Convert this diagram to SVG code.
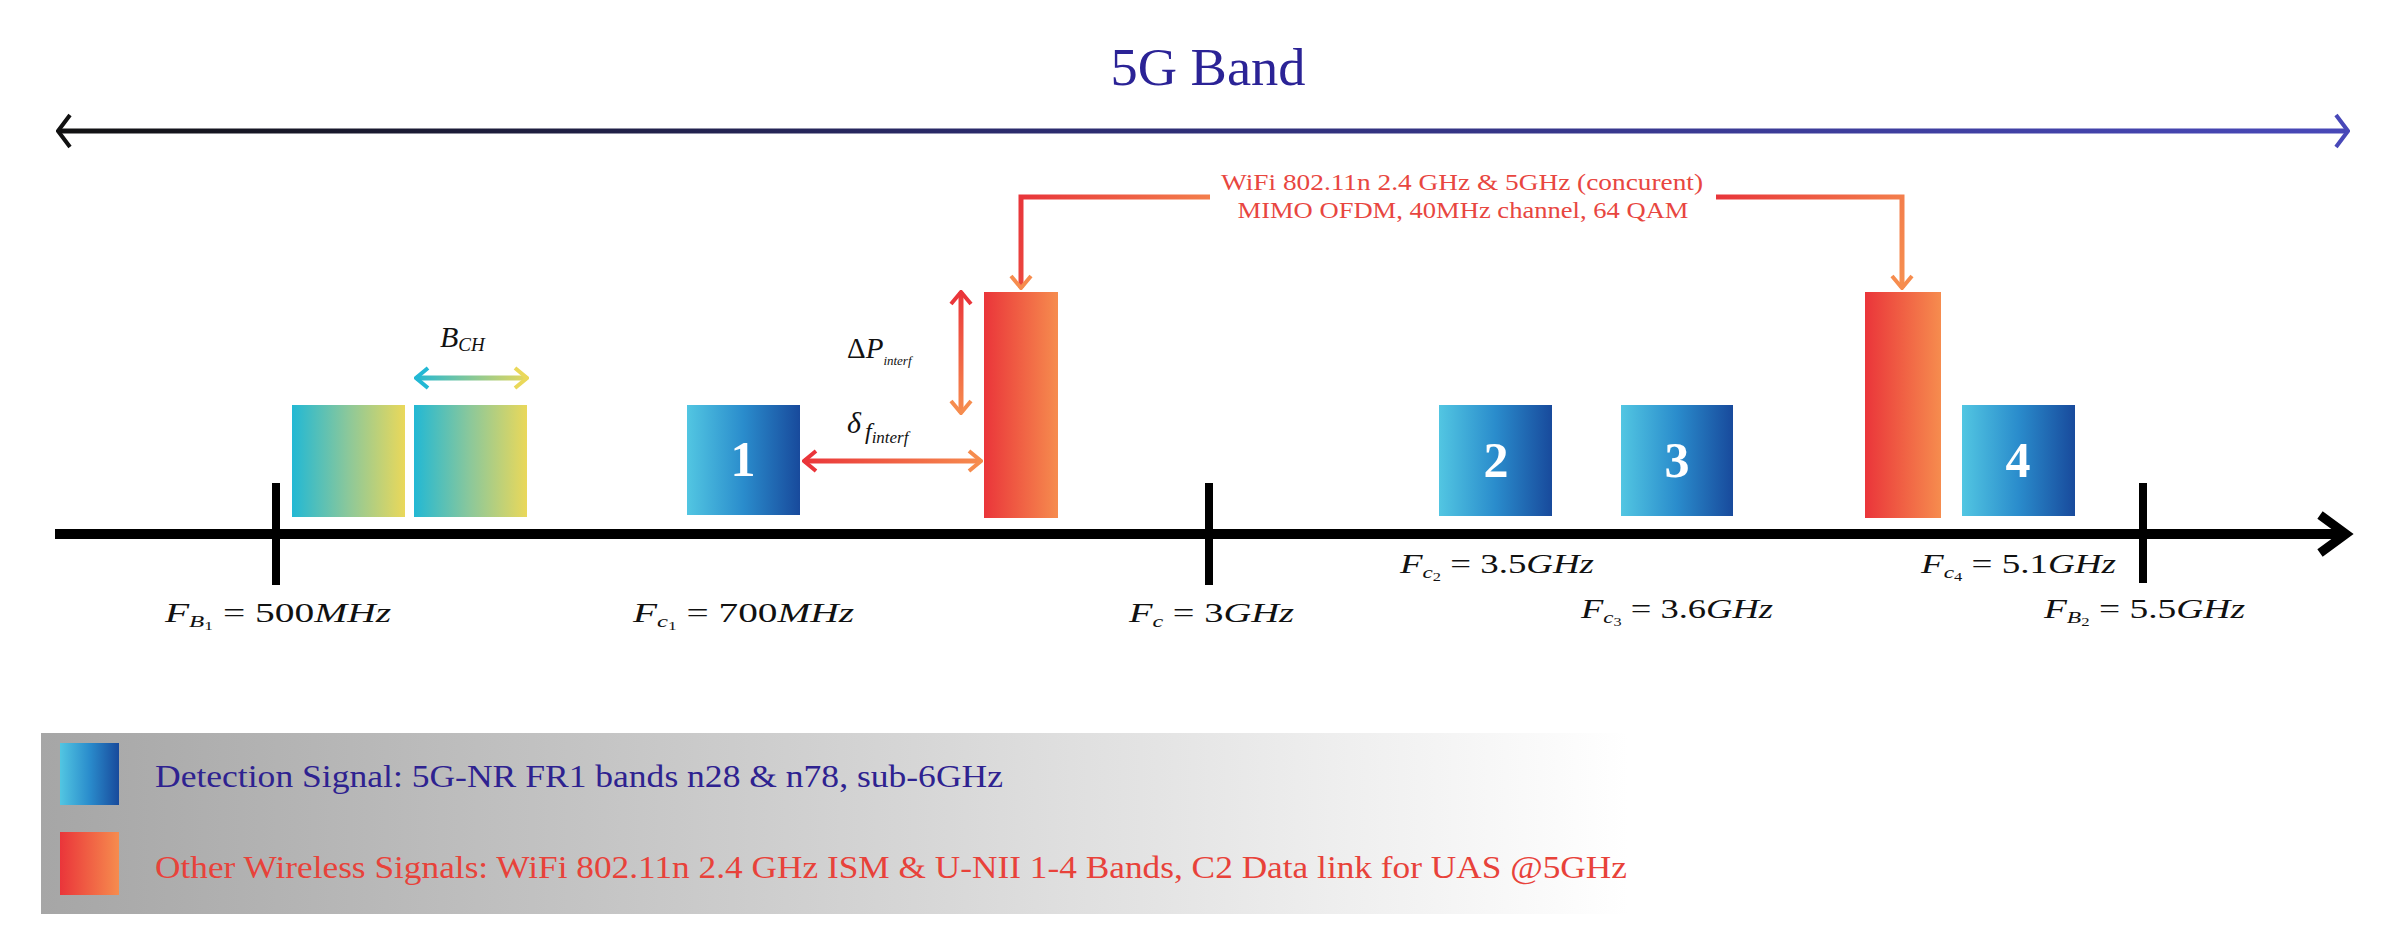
<svg xmlns="http://www.w3.org/2000/svg" width="2386" height="950" viewBox="0 0 2386 950">
<style>
.serif{font-family:"Liberation Serif","DejaVu Serif",serif}
.math{font-family:"Liberation Serif","DejaVu Serif",serif;font-size:27px;fill:#111}
.it{font-style:italic}
.num{font-family:"Liberation Serif","DejaVu Serif",serif;font-weight:bold;font-size:50px;fill:#fff;text-anchor:middle}
.wifi{font-family:"Liberation Serif","DejaVu Serif",serif;font-size:23px;fill:#e8463f;text-anchor:middle}
.tick{stroke:#000;stroke-width:8}
</style>
<defs>
<linearGradient id="gBlue" x1="0" y1="0" x2="1" y2="0"><stop offset="0" stop-color="#52c6e2"/><stop offset="0.5" stop-color="#2a8ccc"/><stop offset="1" stop-color="#184a9c"/></linearGradient>
<linearGradient id="gRed" x1="0" y1="0" x2="1" y2="0"><stop offset="0" stop-color="#ea353a"/><stop offset="1" stop-color="#f68c4e"/></linearGradient>
<linearGradient id="gTY" x1="0" y1="0" x2="1" y2="0"><stop offset="0" stop-color="#22b8d4"/><stop offset="0.5" stop-color="#8cc89a"/><stop offset="1" stop-color="#ead85a"/></linearGradient>
<linearGradient id="gLegend" x1="0" y1="0" x2="1" y2="0"><stop offset="0" stop-color="#a6a6a6"/><stop offset="0.55" stop-color="#d6d6d6"/><stop offset="1" stop-color="#ffffff"/></linearGradient>
<linearGradient id="gBand" gradientUnits="userSpaceOnUse" x1="55" y1="0" x2="2351" y2="0"><stop offset="0" stop-color="#111111"/><stop offset="0.4" stop-color="#2a2a6a"/><stop offset="1" stop-color="#4848b8"/></linearGradient>
<linearGradient id="gBch" gradientUnits="userSpaceOnUse" x1="414" y1="0" x2="529" y2="0"><stop offset="0" stop-color="#22b8d4"/><stop offset="1" stop-color="#ead85a"/></linearGradient>
<linearGradient id="gDf" gradientUnits="userSpaceOnUse" x1="802" y1="0" x2="983" y2="0"><stop offset="0" stop-color="#ea353a"/><stop offset="1" stop-color="#f68c4e"/></linearGradient>
<linearGradient id="gDp" gradientUnits="userSpaceOnUse" x1="0" y1="290" x2="0" y2="415"><stop offset="0" stop-color="#ea353a"/><stop offset="1" stop-color="#f68c4e"/></linearGradient>
<linearGradient id="gW1" gradientUnits="userSpaceOnUse" x1="1021" y1="197" x2="1210" y2="290"><stop offset="0" stop-color="#e8353a"/><stop offset="1" stop-color="#f69050"/></linearGradient>
<linearGradient id="gW2" gradientUnits="userSpaceOnUse" x1="1716" y1="197" x2="1902" y2="290"><stop offset="0" stop-color="#e8353a"/><stop offset="1" stop-color="#f69050"/></linearGradient>
<marker id="mBandL" viewBox="0 0 16 36" refX="2" refY="18" markerWidth="16" markerHeight="36" markerUnits="userSpaceOnUse" orient="auto"><path d="M14,2 L2,18 L14,34" fill="none" stroke="#111" stroke-width="4"/></marker>
<marker id="mBandR" viewBox="0 0 16 36" refX="14" refY="18" markerWidth="16" markerHeight="36" markerUnits="userSpaceOnUse" orient="auto"><path d="M2,2 L14,18 L2,34" fill="none" stroke="#4848b8" stroke-width="4"/></marker>
<marker id="mRed" viewBox="0 0 16 24" refX="14" refY="12" markerWidth="16" markerHeight="24" markerUnits="userSpaceOnUse" orient="auto-start-reverse"><path d="M2,2 L14,12 L2,22" fill="none" stroke="#ea353a" stroke-width="4"/></marker>
<marker id="mOrange" viewBox="0 0 16 24" refX="14" refY="12" markerWidth="16" markerHeight="24" markerUnits="userSpaceOnUse" orient="auto-start-reverse"><path d="M2,2 L14,12 L2,22" fill="none" stroke="#f68c4e" stroke-width="4"/></marker>
<marker id="mTeal" viewBox="0 0 16 24" refX="14" refY="12" markerWidth="16" markerHeight="24" markerUnits="userSpaceOnUse" orient="auto-start-reverse"><path d="M2,2 L14,12 L2,22" fill="none" stroke="#22b8d4" stroke-width="4"/></marker>
<marker id="mYellow" viewBox="0 0 16 24" refX="14" refY="12" markerWidth="16" markerHeight="24" markerUnits="userSpaceOnUse" orient="auto-start-reverse"><path d="M2,2 L14,12 L2,22" fill="none" stroke="#ead85a" stroke-width="4"/></marker>
</defs>
<rect width="2386" height="950" fill="#fff"/>

<text class="serif" x="1208" y="85" font-size="52" fill="#2b2396" text-anchor="middle" textLength="195" lengthAdjust="spacingAndGlyphs">5G Band</text>

<g id="axis">
<line x1="55" y1="534" x2="2340" y2="534" stroke="#000" stroke-width="10"/>
<path d="M2320,515 L2346,534 L2320,553" fill="none" stroke="#000" stroke-width="9"/>
<line class="tick" x1="276" y1="483" x2="276" y2="585"/>
<line class="tick" x1="1209" y1="483" x2="1209" y2="585"/>
<line class="tick" x1="2143" y1="483" x2="2143" y2="583"/>
</g>

<g id="node-bch-a"><rect x="292" y="405" width="113" height="112" fill="url(#gTY)"/></g>
<g id="node-bch-b"><rect x="414" y="405" width="113" height="112" fill="url(#gTY)"/></g>
<g id="node-1"><rect x="687" y="405" width="113" height="110" fill="url(#gBlue)"/><text class="num" x="743" y="476">1</text></g>
<g id="node-wifi-1"><rect x="984" y="292" width="74" height="226" fill="url(#gRed)"/></g>
<g id="node-2"><rect x="1439" y="405" width="113" height="111" fill="url(#gBlue)"/><text class="num" x="1496" y="477">2</text></g>
<g id="node-3"><rect x="1621" y="405" width="112" height="111" fill="url(#gBlue)"/><text class="num" x="1677" y="477">3</text></g>
<g id="node-wifi-2"><rect x="1865" y="292" width="76" height="226" fill="url(#gRed)"/></g>
<g id="node-4"><rect x="1962" y="405" width="113" height="111" fill="url(#gBlue)"/><text class="num" x="2018" y="477">4</text></g>

<g id="connectors" fill="none">
<line x1="58" y1="131" x2="2348" y2="131" stroke="url(#gBand)" stroke-width="5" marker-start="url(#mBandL)" marker-end="url(#mBandR)"/>
<line x1="416" y1="378" x2="527" y2="378" stroke="url(#gBch)" stroke-width="5" marker-start="url(#mTeal)" marker-end="url(#mYellow)"/>
<line x1="804" y1="461" x2="981" y2="461" stroke="url(#gDf)" stroke-width="5" marker-start="url(#mRed)" marker-end="url(#mOrange)"/>
<line x1="961" y1="292" x2="961" y2="413" stroke="url(#gDp)" stroke-width="5" marker-start="url(#mRed)" marker-end="url(#mOrange)"/>
<path d="M1210,197 L1021,197 L1021,288" stroke="url(#gW1)" stroke-width="5" marker-end="url(#mOrange)"/>
<path d="M1716,197 L1902,197 L1902,288" stroke="url(#gW2)" stroke-width="5" marker-end="url(#mOrange)"/>
</g>

<g id="wifi-label">
<text class="wifi" x="1462" y="190" textLength="482" lengthAdjust="spacingAndGlyphs">WiFi 802.11n 2.4 GHz &amp; 5GHz (concurent)</text>
<text class="wifi" x="1463" y="218" textLength="451" lengthAdjust="spacingAndGlyphs">MIMO OFDM, 40MHz channel, 64 QAM</text>
</g>

<g id="math-labels" class="math">
<text x="440" y="347"><tspan class="it" font-size="30">B</tspan><tspan class="it" font-size="19" dy="4">CH</tspan></text>
<text x="847" y="358"><tspan font-size="29">Δ</tspan><tspan class="it" font-size="29">P</tspan><tspan class="it" font-size="13" dy="7">interf</tspan></text>
<text x="847" y="433"><tspan class="it" font-size="30">δ</tspan><tspan class="it" font-size="24" dx="4" dy="6">f</tspan><tspan class="it" font-size="17" dy="4">interf</tspan></text>

<text x="165" y="622" textLength="226" lengthAdjust="spacingAndGlyphs"><tspan class="it">F</tspan><tspan class="it" font-size="17" dy="5">B</tspan><tspan font-size="12" dy="3">1</tspan><tspan dy="-8"> = 500</tspan><tspan class="it">MHz</tspan></text>
<text x="633" y="622" textLength="221" lengthAdjust="spacingAndGlyphs"><tspan class="it">F</tspan><tspan class="it" font-size="17" dy="5">c</tspan><tspan font-size="12" dy="3">1</tspan><tspan dy="-8"> = 700</tspan><tspan class="it">MHz</tspan></text>
<text x="1129" y="622" textLength="165" lengthAdjust="spacingAndGlyphs"><tspan class="it">F</tspan><tspan class="it" font-size="17" dy="5">c</tspan><tspan dy="-5"> = 3</tspan><tspan class="it">GHz</tspan></text>
<text x="1400" y="573" textLength="194" lengthAdjust="spacingAndGlyphs"><tspan class="it">F</tspan><tspan class="it" font-size="17" dy="5">c</tspan><tspan font-size="12" dy="3">2</tspan><tspan dy="-8"> = 3.5</tspan><tspan class="it">GHz</tspan></text>
<text x="1581" y="618" textLength="192" lengthAdjust="spacingAndGlyphs"><tspan class="it">F</tspan><tspan class="it" font-size="17" dy="5">c</tspan><tspan font-size="12" dy="3">3</tspan><tspan dy="-8"> = 3.6</tspan><tspan class="it">GHz</tspan></text>
<text x="1921" y="573" textLength="195" lengthAdjust="spacingAndGlyphs"><tspan class="it">F</tspan><tspan class="it" font-size="17" dy="5">c</tspan><tspan font-size="12" dy="3">4</tspan><tspan dy="-8"> = 5.1</tspan><tspan class="it">GHz</tspan></text>
<text x="2044" y="618" textLength="201" lengthAdjust="spacingAndGlyphs"><tspan class="it">F</tspan><tspan class="it" font-size="17" dy="5">B</tspan><tspan font-size="12" dy="3">2</tspan><tspan dy="-8"> = 5.5</tspan><tspan class="it">GHz</tspan></text>
</g>

<g id="legend">
<rect x="41" y="733" width="1587" height="181" fill="url(#gLegend)"/>
<rect x="60" y="743" width="59" height="62" fill="url(#gBlue)"/>
<rect x="60" y="832" width="59" height="63" fill="url(#gRed)"/>
<text class="serif" x="155" y="787" font-size="32" fill="#2e2290" textLength="848" lengthAdjust="spacingAndGlyphs">Detection Signal: 5G-NR FR1 bands n28 &amp; n78, sub-6GHz</text>
<text class="serif" x="155" y="878" font-size="32" fill="#e8423a" textLength="1472" lengthAdjust="spacingAndGlyphs">Other Wireless Signals: WiFi 802.11n 2.4 GHz ISM &amp; U-NII 1-4 Bands, C2 Data link for UAS @5GHz</text>
</g>
</svg>
